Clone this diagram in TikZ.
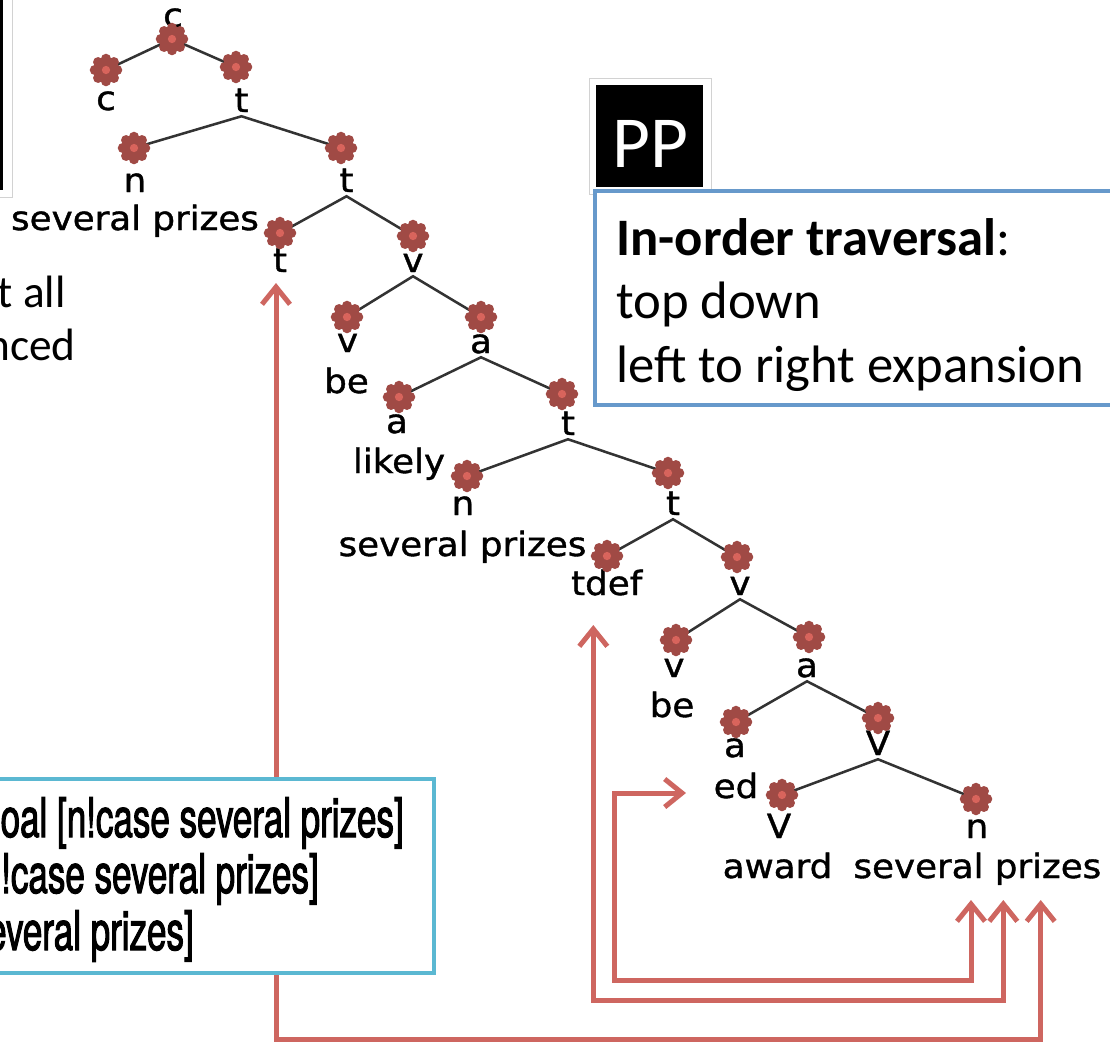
\documentclass[tikz,border=0pt]{standalone}
\usepackage{fontspec}
\setmainfont{Carlito}
\newfontfamily\treefont[FakeStretch=1.07,FakeBold=1.2]{DejaVu Sans}
\newfontfamily\condfont[FakeStretch=0.64,FakeBold=1.8]{TeX Gyre Heros}
\usetikzlibrary{arrows.meta}

\definecolor{petal}{RGB}{160,74,69}
\definecolor{petalcore}{RGB}{216,100,92}
\definecolor{tracered}{RGB}{206,102,96}
\definecolor{boxblue}{RGB}{103,153,203}
\definecolor{boxteal}{RGB}{91,184,210}

\tikzset{
  treelab/.style={font=\treefont\fontsize{25}{25}\selectfont, inner xsep=0pt,
    inner ysep=3pt, text depth=0pt, anchor=base},
  treeword/.style={font=\treefont\fontsize{25}{25}\selectfont, inner sep=0pt, anchor=base},
  marker/.style={circle, inner sep=0pt, minimum size=15pt},
  treeedge/.style={draw=black!80, line width=1.9pt},
  tracearrow/.style={draw=tracered, line width=3.75pt, line join=miter,
    {Straight Barb[length=13pt,width=21pt]}-{Straight Barb[length=13pt,width=21pt]}},
  slide/.style={inner sep=0pt},
}

\begin{document}
\begin{tikzpicture}[x=0.75pt,y=-0.75pt]
\useasboundingbox (0,0) rectangle (1110,1043);
\clip (0,0) rectangle (1110,1043);

% ---- framed black panels ----
\filldraw[fill=white, draw=gray!35, line width=0.6pt] (-20,-20) rectangle (12,197);
\fill[black] (-20,-20) rectangle (3,190);
\filldraw[fill=white, draw=gray!35, line width=0.6pt] (589,78) rectangle (711,194);
\fill[black] (596,85) rectangle (703,187);
\node[slide, anchor=base, text=white, font=\fontsize{55}{55}\selectfont] (pp) at (650,167) {PP};

% ---- side text ----
\node[slide, anchor=base east, font=\fontsize{34}{40}\selectfont] (side1) at (66,307) {t all};
\node[slide, anchor=base east, font=\fontsize{34}{40}\selectfont] (side2) at (76,360) {nced};

% ---- derivation tree: markers, categories, words ----
\node[marker] (m1) at (172,39) {};
\node[treelab] (l1) at (173,27) {c};
\node[marker] (m2) at (106,70) {};
\node[treelab] (l2) at (106,110) {c};
\node[marker] (m3) at (236,67) {};
\node[treelab] (l3) at (241.5,112) {t};
\node[marker] (m4) at (134,148) {};
\node[treelab] (l4) at (135,192) {n};
\node[treeword] (w4) at (135,230) {several prizes};
\node[marker] (m5) at (341,148) {};
\node[treelab] (l5) at (346.5,192) {t};
\node[marker] (m6) at (280,233) {};
\node[treelab] (l6) at (280,272) {t};
\node[marker] (m7) at (413,236) {};
\node[treelab] (l7) at (413,272) {v};
\node[marker] (m8) at (347,317) {};
\node[treelab] (l8) at (347.5,352) {v};
\node[treeword] (w8) at (346.5,393) {be};
\node[marker] (m9) at (481,317) {};
\node[treelab] (l9) at (481,353) {a};
\node[marker] (m10) at (399,397) {};
\node[treelab] (l10) at (397,433) {a};
\node[treeword] (w10) at (399,473) {likely};
\node[marker] (m11) at (562,394) {};
\node[treelab] (l11) at (568,435) {t};
\node[marker] (m12) at (467,476) {};
\node[treelab] (l12) at (463,515) {n};
\node[treeword] (w12) at (462.5,556) {several prizes};
\node[marker] (m13) at (668,473) {};
\node[treelab] (l13) at (673,515) {t};
\node[marker] (m14) at (607,556) {};
\node[treelab] (l14) at (606.7,595) {tdef};
\node[marker] (m15) at (737,557) {};
\node[treelab] (l15) at (740,595) {v};
\node[marker] (m16) at (676,640) {};
\node[treelab] (l16) at (674,677) {v};
\node[treeword] (w16) at (672,717) {be};
\node[marker] (m17) at (809,637) {};
\node[treelab] (l17) at (807,677) {a};
\node[marker] (m18) at (736,722) {};
\node[treelab] (l18) at (735,757) {a};
\node[treeword] (w18) at (736,798) {ed};
\node[marker] (m19) at (878,718) {};
\node[treelab] (l19) at (878,755) {V};
\node[marker] (m20) at (782,795) {};
\node[treelab] (l20) at (779,838) {V};
\node[treeword] (w20) at (777.5,878) {award};
\node[marker] (m21) at (976,799) {};
\node[treelab] (l21) at (977,838) {n};
\node[treeword] (w21) at (977.4,878) {several prizes};

% ---- tree edges ----
\draw[treeedge] (m2.center) -- (m1.center) -- (m3.center);
\draw[treeedge] (m4.center) -- (l3.south) -- (m5.center);
\draw[treeedge] (m6.center) -- (l5.south) -- (m7.center);
\draw[treeedge] (m8.center) -- (l7.south) -- (m9.center);
\draw[treeedge] (m10.center) -- (l9.south) -- (m11.center);
\draw[treeedge] (m12.center) -- (l11.south) -- (m13.center);
\draw[treeedge] (m14.center) -- (l13.south) -- (m15.center);
\draw[treeedge] (m16.center) -- (l15.south) -- (m17.center);
\draw[treeedge] (m18.center) -- (l17.south) -- (m19.center);
\draw[treeedge] (m20.center) -- (l19.south) -- (m21.center);

% ---- flower markers ----
\foreach \m in {m1,m2,m3,m4,m5,m6,m7,m8,m9,m10,m11,m12,m13,m14,m15,m16,m17,m18,m19,m20,m21} {
  \fill[petal] (\m.center) circle[radius=7.8pt];
  \foreach \a in {0,45,...,315}
    \fill[petal] (\m.center) ++(\a:8.4pt) circle[radius=3.8pt];
  \fill[petalcore] (\m.center) circle[radius=3.1pt];
}

% ---- traversal arrows ----
\coordinate (otop) at (276,283);
\coordinate (obot) at (1040.7,900);
\coordinate (oy) at (0,1039);
\coordinate (mtop) at (593.3,625);
\coordinate (mbot) at (1003.3,900);
\coordinate (my) at (0,1000);
\coordinate (itip) at (686,793);
\coordinate (ileft) at (614.4,793);
\coordinate (ibot) at (971,900);
\coordinate (iy) at (0,980);
\draw[tracearrow] (otop) -- (otop |- oy) -| (obot);
\draw[tracearrow] (mtop) -- (mtop |- my) -| (mbot);
\draw[tracearrow] (itip) -- (ileft) -- (ileft |- iy) -| (ibot);

% ---- goal box ----
\filldraw[fill=white, draw=boxteal, line width=3pt] (-20,778.5) rectangle (434,972.5);
\node[slide, anchor=base east, font=\condfont\fontsize{41}{41}\selectfont] (g1) at (404,837) {goal [n!case several prizes]};
\node[slide, anchor=base east, font=\condfont\fontsize{41}{41}\selectfont] (g2) at (319,893) {[n!case several prizes]};
\node[slide, anchor=base east, font=\condfont\fontsize{41}{41}\selectfont] (g3) at (194,950) {several prizes]};

% ---- traversal note ----
\filldraw[fill=white, draw=boxblue, line width=3.4pt] (595,191) rectangle (1135,405);
\node[slide, anchor=base west, font=\fontsize{39.5}{47}\selectfont] (n1) at (616,255) {\textbf{In-order traversal}:};
\node[slide, anchor=base west, font=\fontsize{39.5}{47}\selectfont] (n2) at (616,318) {top down};
\node[slide, anchor=base west, font=\fontsize{39.5}{47}\selectfont] (n3) at (616,382) {left to right expansion};
\end{tikzpicture}
\end{document}
